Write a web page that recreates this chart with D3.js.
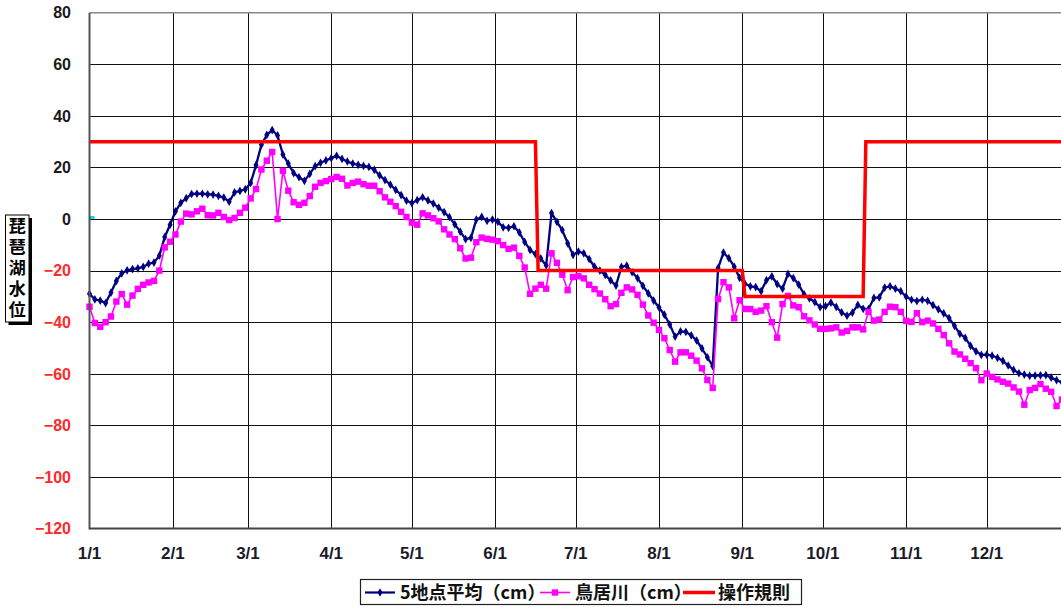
<!DOCTYPE html>
<html><head><meta charset="utf-8">
<script src="https://cdn.jsdelivr.net/npm/d3@7"></script>
<style>body{margin:0;background:#fff;} svg{display:block}</style>
</head><body><svg id="c" width="1061" height="610"></svg>
<script>
// ---- data ----
const startDay = "2007-01-01";
const stepDays = 2;
const avg5 = [
-29,-31.2,-31.6,-32.6,-28.5,-24,-21.1,-19.9,-19.4,-19.1,
-18.6,-17.3,-16.9,-14.2,-7,-2.2,3,6.3,8.1,9.7,
9.8,9.8,9.6,9.5,9,8.3,6.7,10.3,10.9,11.5,
14,20.9,28.8,32.6,34.5,32.4,25,21.5,17.8,16.2,
14.8,17.5,20.5,21.8,22.7,23.6,24.5,23.3,22.3,21.5,
21,20.6,20.2,19.1,16.9,15.1,13.3,11.3,9.3,7.1,
6.2,7.3,8.4,7.2,6,4.4,2.7,0.7,-2.1,-4.9,
-7.8,-7.3,-0.2,0.8,-0.7,-0.2,-1.1,-3.2,-3.4,-2.8,
-5.2,-8.9,-12,-13.6,-15.3,-18,2.3,-1.1,-4.3,-9.4,
-13.9,-12.6,-13.3,-15.5,-18.5,-20,-21.7,-23.8,-25.8,-18.6,
-18.1,-20.6,-22.9,-25.9,-28.8,-31.6,-34.3,-37.1,-40.9,-45.6,
-43.6,-43.8,-45.1,-47.1,-50.2,-53.6,-57,-19,-13,-15.2,
-18.5,-22.8,-25.1,-26.1,-26.4,-28,-23.7,-22.2,-25.2,-27,
-21.3,-22.9,-25.4,-29.2,-30.8,-32.2,-34.2,-33.8,-32.4,-34.1,
-36.2,-37.5,-36.3,-33.3,-34.8,-34.9,-30.6,-30.4,-26.6,-26.1,
-27,-28,-30.1,-31.3,-31.8,-31.3,-31.7,-33.4,-35,-36.6,
-38.4,-41.4,-44.5,-46.1,-49.2,-51.3,-52.7,-52.6,-53,-53.8,
-55,-56.8,-58.5,-59.8,-60.3,-60.8,-60.7,-60.6,-60.5,-61.5,
-62.5,-63.3,-63.8];
const torii = [
-34,-40.3,-41.8,-40,-37.8,-32,-29.1,-33.2,-29.7,-27.1,
-25.5,-24.6,-24,-20,-11,-8.8,-6,-1,2.1,1.8,
3,4,1.5,1.4,2.4,0.8,-0.4,0.4,2.4,4.4,
8,11.6,19.2,22.6,26,0,18.7,11,6.5,5.5,
6.3,8.9,12.5,14,14.7,15.5,16.3,15.6,13,14,
14.5,13.5,12.9,12.9,10.8,8.4,6.7,5,2.8,0.8,
-1.4,-2.2,2.2,1.4,0.3,-0.9,-4,-6,-7.8,-11.3,
-15.3,-15,-9,-7.2,-7.7,-8,-8.6,-10.1,-11.6,-11.1,
-14.3,-18.8,-29,-27,-25.5,-27,-13.3,-17,-21.6,-27.6,
-22.5,-22.2,-23,-25.5,-27.2,-28.9,-31.1,-33.8,-33,-28.6,
-26.5,-27.3,-29.4,-33.2,-37.4,-40.2,-43,-46.2,-50.8,-55.3,
-51.7,-51.7,-53,-54.9,-57.9,-62.4,-65.5,-31,-24.5,-26.5,
-38.5,-31.5,-34.9,-34.9,-36,-35.5,-33.8,-40,-46,-33,
-29.8,-33.5,-34.2,-37.7,-39.3,-40.9,-42.6,-42.6,-42.4,-42,
-44,-43.4,-42,-42,-42.8,-36,-39.4,-39,-36,-34,
-34.2,-36,-39.5,-39.9,-36.5,-40,-39.4,-40.5,-42.6,-45,
-48.2,-51.4,-52.5,-54.2,-55.9,-57.8,-62.5,-59.9,-61.2,-62.2,
-63.1,-63.8,-65.3,-66.9,-72,-66.3,-65.5,-64,-65.8,-67,
-72.5,-70,-70];
const ruleDates = ["2007-01-01","2007-06-16","2007-06-17","2007-09-01","2007-09-02","2007-10-16","2007-10-17","2007-12-31"];
const ruleValues = [30,30,-20,-20,-30,-30,30,30];
const cyanDates = ["2007-01-01"];
const cyanValues = [0.6];
const monthLabels = ["1/1","2/1","3/1","4/1","5/1","6/1","7/1","8/1","9/1","10/1","11/1","12/1"];
const yTicks = [80,60,40,20,0,-20,-40,-60,-80,-100,-120];
const yTitle = "琵琶湖水位";
const legendNames = ["5地点平均（cm）","鳥居川（cm）","操作規則"];

// ---- drawing ----
const parse = d3.timeParse("%Y-%m-%d");
const t0 = parse(startDay);
const t1 = d3.timeYear.offset(t0, 1);
const svg = d3.select("#c");
const L = 89.5, R = 1070, T = 12.7, B = 528.5;
const x = d3.scaleTime().domain([t0, t1]).range([L, R]);
const y = d3.scaleLinear().domain([-120, 80]).range([B, T]);
const fmt = d3.format("d");

const avgPts = avg5.map((v,i)=>({d:d3.timeDay.offset(t0,i*stepDays), v}));
const toriiPts = torii.map((v,i)=>({d:d3.timeDay.offset(t0,i*stepDays), v}));
const rulePts = ruleDates.map((s,i)=>({d:parse(s), v:ruleValues[i]}));
const monthDates = d3.timeMonth.range(t0, t1);

// gridlines
const g = svg.append("g");
g.selectAll("line.h").data(yTicks.filter(v=>v>-120 && v<80)).join("line")
  .attr("x1",L).attr("x2",R).attr("y1",d=>Math.round(y(d))+0.5).attr("y2",d=>Math.round(y(d))+0.5)
  .attr("stroke","#111").attr("stroke-width",1);
g.selectAll("line.v").data(monthDates.slice(1)).join("line")
  .attr("y1",T).attr("y2",B).attr("x1",d=>Math.round(x(d))+0.5).attr("x2",d=>Math.round(x(d))+0.5)
  .attr("stroke","#111").attr("stroke-width",1);
g.append("line").attr("x1",L).attr("x2",R).attr("y1",y(80)).attr("y2",y(80)).attr("stroke","#888").attr("stroke-width",1.5);

// y tick labels
svg.append("g").selectAll("text").data(yTicks).join("text")
  .attr("x",71).attr("y",d=>y(d)).attr("dy","0.36em").attr("text-anchor","end")
  .attr("font-family","'Liberation Sans', Arial, sans-serif").attr("font-weight","bold").attr("font-size",16)
  .attr("fill",d=>d<0?"#ff2a2a":"#1a1a1a").text(d=>fmt(d));

// x tick labels
svg.append("g").selectAll("text").data(monthDates).join("text")
  .attr("x",d=>x(d)).attr("y",553).attr("dy","0.36em").attr("text-anchor","middle")
  .attr("font-family","'Liberation Sans', Arial, sans-serif").attr("font-weight","bold").attr("font-size",17)
  .attr("fill","#1a1a2a").text((d,i)=>monthLabels[i]);

// series
const line = d3.line().x(d=>x(d.d)).y(d=>y(d.v));
svg.append("path").datum(avgPts).attr("d",line).attr("fill","none").attr("stroke","#000080").attr("stroke-width",2.3).attr("stroke-linejoin","round");
svg.append("g").selectAll("path").data(avgPts).join("path")
  .attr("transform",d=>`translate(${x(d.d)},${y(d.v)})`)
  .attr("d",d3.symbol(d3.symbolDiamond,22)).attr("fill","#000080");

svg.append("path").datum(toriiPts).attr("d",line).attr("fill","none").attr("stroke","#ff00ff").attr("stroke-width",1.6);
svg.append("g").selectAll("rect").data(toriiPts).join("rect")
  .attr("x",d=>x(d.d)-3.2).attr("y",d=>y(d.v)-3.2).attr("width",6.4).attr("height",6.4).attr("fill","#ff00ff");

svg.append("path").datum(rulePts).attr("d",line).attr("fill","none").attr("stroke","#ff0000").attr("stroke-width",3.5);

svg.append("g").selectAll("rect").data(cyanDates).join("rect")
  .attr("x",(d)=>x(parse(d))).attr("y",(d,i)=>y(cyanValues[i])-1.5).attr("width",5).attr("height",3).attr("fill","#00e0e0");

// axes lines
svg.append("line").attr("x1",L).attr("x2",L).attr("y1",T).attr("y2",B+1).attr("stroke","#555").attr("stroke-width",2);
svg.append("line").attr("x1",L).attr("x2",R).attr("y1",B).attr("y2",B).attr("stroke","#444").attr("stroke-width",2);

// y title box (vertical text, one element)
const tb = svg.append("g");
tb.append("rect").attr("x",8.5).attr("y",218).attr("width",23.5).attr("height",107).attr("fill","#000");
tb.append("rect").attr("x",5.5).attr("y",215).attr("width",23.5).attr("height",107).attr("fill","#fff").attr("stroke","#000").attr("stroke-width",1);
tb.append("text").attr("x",17.3).attr("y",217)
  .attr("writing-mode","vertical-rl")
  .style("writing-mode","vertical-rl").style("letter-spacing","4px")
  .attr("font-family","'Noto Sans CJK JP', sans-serif").attr("font-weight","bold").attr("font-size",17).attr("fill","#000")
  .text(yTitle);

// legend
const lg = svg.append("g");
lg.append("rect").attr("x",360.5).attr("y",579.5).attr("width",441).attr("height",25).attr("fill","#fff").attr("stroke","#222").attr("stroke-width",1.2);
const ly = 592.5;
lg.append("line").attr("x1",365).attr("x2",395).attr("y1",ly).attr("y2",ly).attr("stroke","#000080").attr("stroke-width",2.2);
lg.append("path").attr("transform",`translate(380,${ly})`).attr("d",d3.symbol(d3.symbolDiamond,22)).attr("fill","#000080");
lg.append("line").attr("x1",540).attr("x2",570).attr("y1",ly).attr("y2",ly).attr("stroke","#ff00ff").attr("stroke-width",1.6);
lg.append("rect").attr("x",555-3.2).attr("y",ly-3.2).attr("width",6.4).attr("height",6.4).attr("fill","#ff00ff");
lg.append("line").attr("x1",683).attr("x2",715).attr("y1",ly).attr("y2",ly).attr("stroke","#ff0000").attr("stroke-width",3.5);
const lx = [400,575,718];
lg.selectAll("text").data(legendNames).join("text")
  .attr("x",(d,i)=>lx[i]).attr("y",ly).attr("dy","0.36em")
  .attr("font-family","'Noto Sans CJK JP', sans-serif").attr("font-weight","bold").attr("font-size",18).attr("fill","#111")
  .text(d=>d);
</script>
</body></html>
